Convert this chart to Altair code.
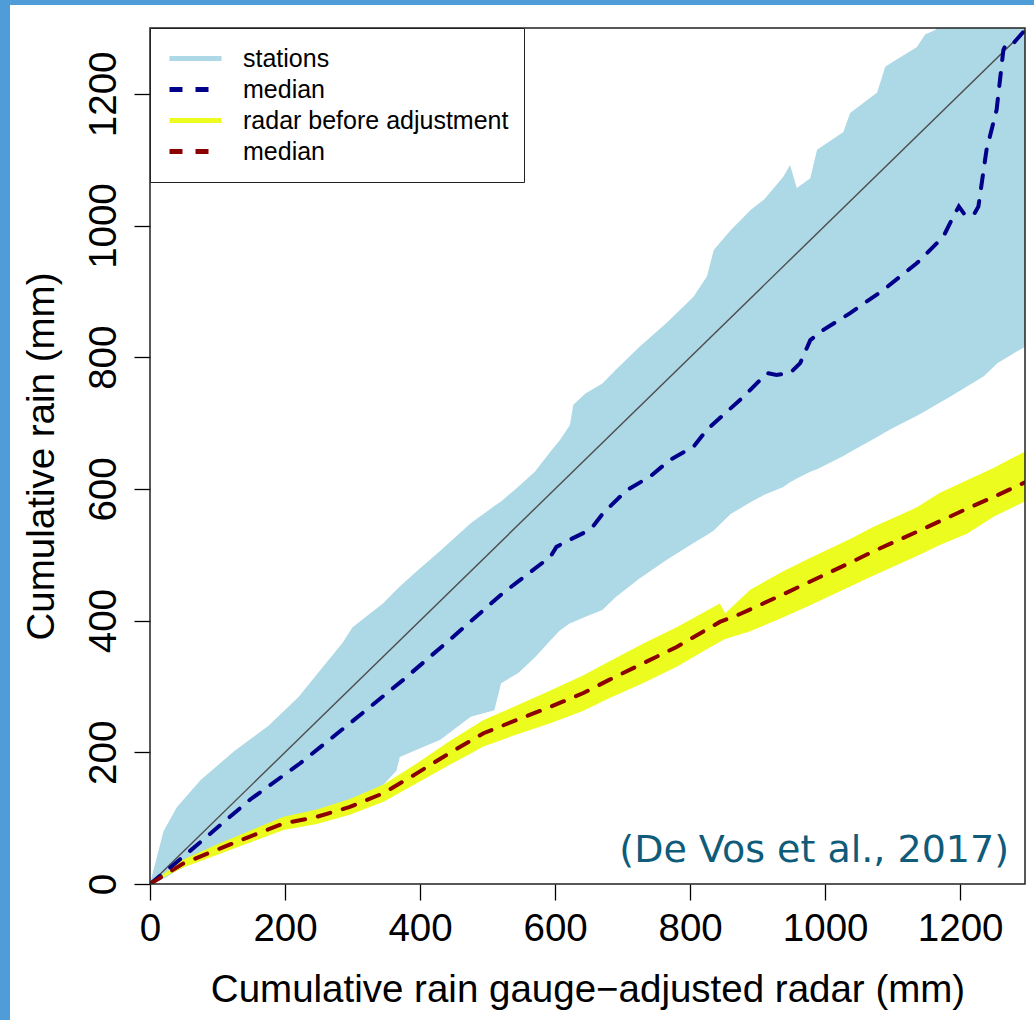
import altair as alt
import pandas as pd

# ---------------- data ----------------
st_x = [0, 5, 10, 20, 40, 75, 125, 175, 220, 250, 285, 300, 345, 365, 370, 395, 430, 475, 510, 520, 545, 570,
        595, 607, 622, 627, 645, 670, 690, 725, 765, 805, 825, 835, 860, 890, 910, 938, 948, 958, 978, 988,
        1027, 1037, 1077, 1089, 1101, 1136, 1148, 1163, 1185, 1235, 1255, 1296]
st_hi = [0, 20, 40, 80, 117, 158, 202, 240, 284, 322, 366, 390, 426, 447, 452, 475, 506, 548, 574, 581, 603, 626,
         659, 674, 697, 728, 745, 760, 781, 816, 852, 892, 923, 963, 993, 1024, 1040, 1074, 1092, 1057, 1072, 1115,
         1142, 1171, 1202, 1241, 1249, 1271, 1290, 1297, 1320, 1360, 1375, 1400]
st_lo = [0, 2, 4, 8, 20, 38, 60, 80, 95, 105, 115, 125, 150, 172, 193, 204, 219, 254, 264, 305, 320, 344,
         372, 385, 396, 398, 406, 416, 436, 464, 492, 518, 530, 537, 562, 580, 591, 603, 610, 616, 626, 630,
         650, 656, 679, 686, 693, 711, 718, 727, 740, 771, 791, 816]

rad_x = [0, 49, 99, 148, 198, 247, 296, 346, 395, 444, 494, 543, 593, 642, 680, 730, 780, 844, 852, 889,
         938, 973, 1037, 1071, 1136, 1170, 1210, 1250, 1296]
rad_hi = [0, 37, 60, 81, 102, 113, 129, 151, 183, 217, 249, 271, 294, 317, 338, 365, 390, 426, 411, 447,
          475, 493, 524, 542, 572, 594, 613, 632, 657]
rad_lo = [0, 25, 44, 63, 82, 91, 105, 125, 153, 181, 209, 227, 244, 263, 282, 305, 330, 368, 372, 384,
          405, 421, 452, 468, 498, 515, 532, 558, 581]

med_st_x = [0, 30, 74, 148, 222, 296, 375, 444, 523, 593, 602, 622, 642, 656, 671, 706, 741, 770, 805, 825,
            879, 914, 928, 948, 963, 978, 998, 1037, 1086, 1136, 1175, 1190, 1198, 1207, 1220, 1227, 1239, 1254,
            1264, 1269, 1279, 1296]
med_st_y = [0, 25, 63, 128, 183, 244, 310, 371, 442, 497, 512, 523, 533, 543, 563, 598, 619, 644, 664, 690,
            740, 776, 773, 776, 791, 826, 842, 867, 902, 943, 983, 1014, 1029, 1016, 1016, 1029, 1115, 1176,
            1267, 1277, 1277, 1297]

med_rad_x = [0, 49, 99, 148, 198, 247, 296, 346, 395, 444, 494, 543, 593, 642, 680, 730, 780, 844, 874, 938,
             973, 1037, 1071, 1136, 1170, 1210, 1250, 1296]
med_rad_y = [0, 31, 52, 72, 92, 102, 117, 138, 168, 199, 229, 249, 269, 290, 310, 335, 360, 398, 410, 440,
             457, 488, 505, 535, 551, 570, 588, 610]

diag = [0, 1296]
x_ticks = [0, 200, 400, 600, 800, 1000, 1200]
y_ticks = [0, 200, 400, 600, 800, 1000, 1200]
x_domain = [0, 1296]
y_domain = [0, 1300]

series = ["stations", "median", "radar before adjustment", "median2"]
colors = ["#add8e6", "#00008b", "#edfc1f", "#8b0000"]
dashes = [[1, 0], [13, 13], [1, 0], [13, 13]]

x_title = "Cumulative rain gauge\u2212adjusted radar (mm)"
y_title = "Cumulative rain (mm)"
citation = "(De Vos et al., 2017)"

# ---------------- tables ----------------
st_df = pd.DataFrame({"x": st_x, "hi": st_hi, "lo": st_lo})
rad_df = pd.DataFrame({"x": rad_x, "hi": rad_hi, "lo": rad_lo})
med_df = pd.concat([
    pd.DataFrame({"x": med_st_x, "y": med_st_y, "series": "median"}),
    pd.DataFrame({"x": med_rad_x, "y": med_rad_y, "series": "median2"}),
], ignore_index=True)
diag_df = pd.DataFrame({"x": diag, "y": diag})
one = pd.DataFrame({"k": [0]})
cite_df = pd.DataFrame({"t": [citation]})

W, H = 875, 856
BLUE = "#4e9dd9"

xs = alt.Scale(domain=x_domain, nice=False, zero=False)
ys = alt.Scale(domain=y_domain, nice=False, zero=False)

xaxis = alt.Axis(values=x_ticks, format="d", title=x_title, titleY=117, titleBaseline="alphabetic",
                 labelBaseline="alphabetic", labelPadding=40, labelFlush=False, labelOverlap=False)
yaxis = alt.Axis(values=y_ticks, format="d", title=y_title, titleX=-97, titleAngle=270,
                 titleBaseline="alphabetic", titleAlign="center", labelAngle=270, labelAlign="center",
                 labelBaseline="alphabetic", labelPadding=19, labelFlush=False, labelOverlap=False)

legend = alt.Legend(title=None, orient="top-left", offset=0, padding=15, fillColor="white",
                    strokeColor="#222222", symbolType="stroke", symbolSize=2704, symbolStrokeWidth=5,
                    symbolOffset=2, labelFont="Liberation Sans", labelFontSize=25, labelColor="black",
                    labelOffset=19, labelLimit=500, rowPadding=0, clipHeight=31,
                    labelExpr="datum.label == 'median2' ? 'median' : datum.label")

border_left = alt.Chart(one).mark_rect(color=BLUE).encode(
    x=alt.value(-150), x2=alt.value(-140), y=alt.value(-28), y2=alt.value(H + 136))
border_top = alt.Chart(one).mark_rect(color=BLUE).encode(
    x=alt.value(-150), x2=alt.value(W + 9), y=alt.value(-28), y2=alt.value(-23))

st_area = alt.Chart(st_df).mark_area(color="#add8e6", clip=True).encode(
    x=alt.X("x:Q", scale=xs, axis=xaxis),
    y=alt.Y("hi:Q", scale=ys, axis=yaxis),
    y2="lo:Q")

rad_area = alt.Chart(rad_df).mark_area(color="#edfc1f", clip=True).encode(
    x=alt.X("x:Q", scale=xs, axis=xaxis),
    y=alt.Y("hi:Q", scale=ys, axis=yaxis),
    y2="lo:Q")

diag_line = alt.Chart(diag_df).mark_line(color="#4d4d4d", strokeWidth=1.4, clip=True).encode(
    x=alt.X("x:Q", scale=xs, axis=xaxis),
    y=alt.Y("y:Q", scale=ys, axis=yaxis))

med_lines = alt.Chart(med_df).mark_line(strokeWidth=4, strokeCap="round", clip=True).encode(
    x=alt.X("x:Q", scale=xs, axis=xaxis),
    y=alt.Y("y:Q", scale=ys, axis=yaxis),
    color=alt.Color("series:N", scale=alt.Scale(domain=series, range=colors), legend=legend),
    strokeDash=alt.StrokeDash("series:N", scale=alt.Scale(domain=series, range=dashes), legend=legend))

frame = alt.Chart(one).mark_rect(fillOpacity=0, stroke="#222222", strokeWidth=1.5).encode(
    x=alt.value(0), x2=alt.value(W), y=alt.value(0), y2=alt.value(H))

cite = alt.Chart(cite_df).mark_text(align="right", baseline="alphabetic", font="DejaVu Sans",
                                    fontSize=38, color="#0f5b7a").encode(
    x=alt.value(W - 16), y=alt.value(H - 22), text="t:N")

chart = alt.layer(border_left, border_top, st_area, rad_area, diag_line, med_lines, frame, cite).properties(
    width=W, height=H,
    padding={"left": 150, "top": 28, "right": 9, "bottom": 136},
    autosize=alt.AutoSizeParams(type="none"),
    background="white",
).configure_view(strokeWidth=0).configure_axis(
    labelFont="Liberation Sans", titleFont="Liberation Sans", labelFontSize=38.5, titleFontSize=38.5,
    titleFontWeight="normal", labelColor="black", titleColor="black", tickColor="black",
    tickWidth=1.3, tickSize=16, domain=False, grid=False)

chart.save("out.html", embed_options={"renderer": "svg", "actions": False})
